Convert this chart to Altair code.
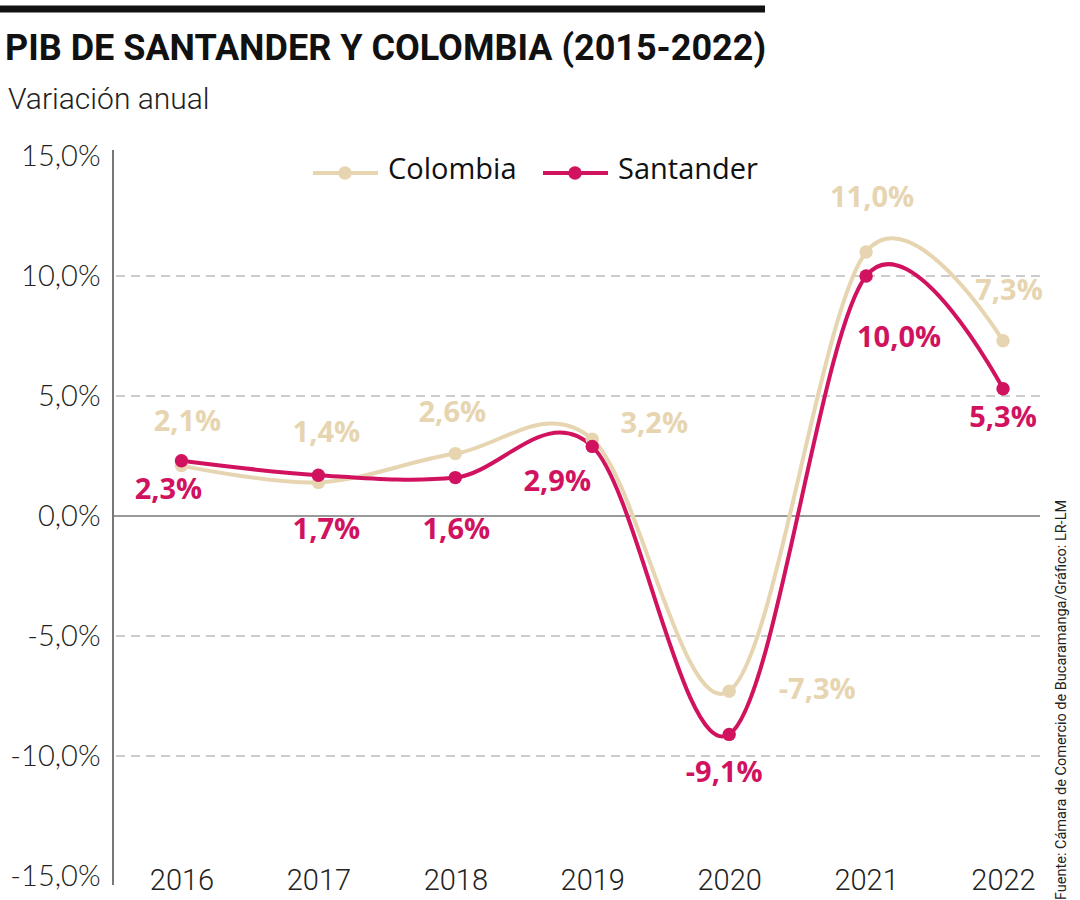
import altair as alt
import pandas as pd

# ---- data ----
YEARS = [2016, 2017, 2018, 2019, 2020, 2021, 2022]
COLOMBIA = [2.1, 1.4, 2.6, 3.2, -7.3, 11.0, 7.3]
SANTANDER = [2.3, 1.7, 1.6, 2.9, -9.1, 10.0, 5.3]
SERIES = ["Colombia", "Santander"]
Y_TICKS = [-15, -10, -5, 0, 5, 10, 15]
GRID_VALUES = [-10, -5, 5, 10]

# label offsets (pixels) relative to each point
COL_DX = [6, 8, -3, 62, 88, 6, 6]
COL_DY = [-44, -49, -41, -15, -1, -54, -50]
SAN_DX = [-13, 8, 1, -35, -5, 33, 0]
SAN_DY = [29, 55, 52, 36, 39, 62, 29]

# ---- layout ----
W, H = 927, 720
X_DOM = [2015.5, 2022.27]
Y_DOM = [-15, 15]
PX_X = W / (X_DOM[1] - X_DOM[0])
PX_Y = H / (Y_DOM[1] - Y_DOM[0])

C_COL_LINE = "#e6d5b0"
C_COL_TEXT = "#bfa575"
C_SAN = "#d1125f"
FONT = "Open Sans"
NARROW = "Roboto"

def fmt(v):
    return f"{v:.1f}".replace(".", ",") + "%"

rows = []
for name, vals, dxs, dys in [("Colombia", COLOMBIA, COL_DX, COL_DY),
                             ("Santander", SANTANDER, SAN_DX, SAN_DY)]:
    for y, v, dx, dy in zip(YEARS, vals, dxs, dys):
        rows.append({"year": y, "value": v, "serie": name, "label": fmt(v),
                     "lx": y + dx / PX_X, "ly": v - dy / PX_Y})
df = pd.DataFrame(rows)

x_scale = alt.Scale(domain=X_DOM, nice=False, zero=False)
y_scale = alt.Scale(domain=Y_DOM, nice=False, zero=False)
color_scale = alt.Scale(domain=SERIES, range=[C_COL_LINE, C_SAN])
text_scale = alt.Scale(domain=SERIES, range=[C_COL_TEXT, C_SAN])

base = alt.Chart(df)

grid = alt.Chart(pd.DataFrame({"g": GRID_VALUES})).mark_rule(
    color="#999999", strokeDash=[9, 6], strokeWidth=1
).encode(y=alt.Y("g:Q", scale=y_scale))

zero = alt.Chart(pd.DataFrame({"g": [0]})).mark_rule(
    color="#777777", strokeWidth=1.5
).encode(y=alt.Y("g:Q", scale=y_scale))

axes = base.mark_point(opacity=0).encode(
    x=alt.X("year:Q", scale=x_scale,
            axis=alt.Axis(values=YEARS, format="d", title=None, domain=False, ticks=False,
                          grid=False, labelFont=NARROW, labelFontSize=29, labelColor="#222",
                          labelBaseline="middle", labelPadding=4, labelFontWeight=300)),
    y=alt.Y("value:Q", scale=y_scale,
            axis=alt.Axis(values=Y_TICKS, title=None, ticks=False, grid=False,
                          domain=False,
                          labelExpr="(datum.value < 0 ? '-' : '') + replace(format(abs(datum.value), '.1f'), '.', ',') + '%'",
                          labelFont="Lato", labelFontWeight=300, labelFontSize=29,
                          labelColor="#222", labelPadding=13)),
)

# vertical axis line (slightly longer than the domain, as in the reference)
axis_line = alt.Chart(pd.DataFrame({"a": [0]})).mark_rule(
    color="#777777", strokeWidth=2
).encode(x=alt.value(0), y=alt.value(-6), y2=alt.value(H + 9))

lines = base.mark_line(interpolate="cardinal", strokeWidth=4).encode(
    x=alt.X("year:Q", scale=x_scale),
    y=alt.Y("value:Q", scale=y_scale),
    color=alt.Color("serie:N", scale=color_scale, legend=None),
    order=alt.Order("year:Q"),
)

points = base.mark_circle(size=180, opacity=1).encode(
    x=alt.X("year:Q", scale=x_scale),
    y=alt.Y("value:Q", scale=y_scale),
    color=alt.Color("serie:N", scale=color_scale, legend=None),
)

labels = base.mark_text(font=FONT, fontSize=29, fontWeight="bold", baseline="middle",
                        align="center").encode(
    x=alt.X("lx:Q", scale=x_scale),
    y=alt.Y("ly:Q", scale=y_scale),
    text="label:N",
    color=alt.Color("serie:N", scale=text_scale, legend=None),
)

one = pd.DataFrame({"a": [0]})

def vtext(txt, x, y, **kw):
    return alt.Chart(one).mark_text(text=txt, **kw).encode(x=alt.value(x), y=alt.value(y))

top_bar = alt.Chart(one).mark_rule(color="#111111", strokeWidth=7).encode(
    x=alt.value(-113), x2=alt.value(652), y=alt.value(-147))
title = vtext("PIB DE SANTANDER Y COLOMBIA (2015-2022)", -108, -107, font=NARROW,
              fontSize=36, fontWeight="bold", align="left", baseline="middle", color="#111")
subtitle = vtext("Variación anual", -105, -56, font=NARROW, fontSize=30, fontWeight=300,
                 align="left", baseline="middle", color="#222")

leg = []
for name, col, x0 in [("Colombia", C_COL_LINE, 200), ("Santander", C_SAN, 430)]:
    leg.append(alt.Chart(one).mark_rule(color=col, strokeWidth=4).encode(
        x=alt.value(x0), x2=alt.value(x0 + 65), y=alt.value(17)))
    leg.append(alt.Chart(one).mark_circle(color=col, size=180, opacity=1).encode(
        x=alt.value(x0 + 32), y=alt.value(17)))
    leg.append(vtext(name, x0 + 75, 14, font=FONT, fontSize=29, align="left",
                     baseline="middle", color="#111"))

source = vtext("Fuente: Cámara de Comercio de Bucaramanga/Gráfico: LR-LM", 949, 544,
               font=NARROW, fontSize=14.5, angle=270, align="center", baseline="middle",
               color="#222")

chart = alt.layer(grid, zero, axes, axis_line, lines, points, labels, top_bar, title,
                  subtitle, *leg, source).properties(
    width=W, height=H,
    autosize=alt.AutoSizeParams(type="none"),
    padding={"left": 113, "top": 156, "right": 40, "bottom": 24},
    background="white",
).configure_view(stroke=None)

chart.save("out.html", embed_options={"renderer": "svg", "actions": False})
